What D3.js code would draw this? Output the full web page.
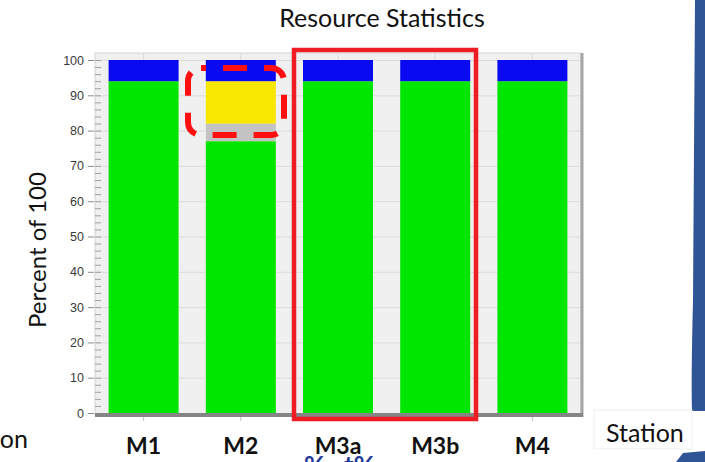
<!DOCTYPE html>
<html>
<head>
<meta charset="utf-8">
<script src="https://cdn.jsdelivr.net/npm/d3@7"></script>
<style>
  html, body { margin: 0; padding: 0; background: #ffffff; }
  svg { display: block; }
</style>
</head>
<body>
<svg id="chart" width="705" height="462"></svg>
<script>
// Station utilisation, stacked to 100 percent
const stations = ["M1", "M2", "M3a", "M3b", "M4"];
const working  = [94, 77, 94, 94, 94];   // green
const blocked  = [0, 5, 0, 0, 0];        // grey
const starved  = [0, 12, 0, 0, 0];       // yellow
const idle     = [6, 6, 6, 6, 6];        // blue
const yTicks   = [0, 10, 20, 30, 40, 50, 60, 70, 80, 90, 100];

const seriesKeys   = ["working", "blocked", "starved", "idle"];
const seriesColors = { working: "#00e600", blocked: "#c3c3c3", starved: "#f8e700", idle: "#0a0af0" };

const rows = stations.map((s, i) => ({
  station: s, working: working[i], blocked: blocked[i], starved: starved[i], idle: idle[i]
}));

const svg = d3.select("#chart");
const slideFont = "Lato, 'Open Sans', sans-serif";

const plot = { left: 95, right: 581, top: 53, bottom: 415 };

const x = d3.scaleBand().domain(stations).range([plot.left, plot.right])
  .paddingInner(0.28).paddingOuter(0.14);
const y = d3.scaleLinear().domain([0, 100]).range([413, 60]);

// slide decoration on the right edge
svg.append("path")
  .attr("d", "M695,0 L705,0 L705,411 L692,411 Q691,380 693,300 Z")
  .attr("fill", "#2f5597");
svg.append("path")
  .attr("d", "M676,462 L683,453 L705,451 L705,462 Z")
  .attr("fill", "#2f5597");

// plot background
svg.append("rect")
  .attr("x", plot.left).attr("y", plot.top)
  .attr("width", plot.right - plot.left).attr("height", plot.bottom - plot.top)
  .attr("fill", "#f0f0f0").attr("stroke", "#d4d4d4").attr("stroke-width", 1);

// horizontal grid
svg.append("g").selectAll("line").data(yTicks).join("line")
  .attr("x1", plot.left).attr("x2", plot.right)
  .attr("y1", d => y(d) + 0.5).attr("y2", d => y(d) + 0.5)
  .attr("stroke", "#dcdcdc").attr("stroke-width", 1);

// vertical grid at station centres
svg.append("g").selectAll("line").data(stations).join("line")
  .attr("x1", d => x(d) + x.bandwidth() / 2).attr("x2", d => x(d) + x.bandwidth() / 2)
  .attr("y1", plot.top).attr("y2", plot.bottom)
  .attr("stroke", "#dcdcdc").attr("stroke-width", 1);

// stacked bars
const stack = d3.stack().keys(seriesKeys)(rows);
svg.append("g").selectAll("g").data(stack).join("g")
  .attr("fill", d => seriesColors[d.key])
  .selectAll("rect").data(d => d).join("rect")
  .attr("x", d => x(d.data.station))
  .attr("width", x.bandwidth())
  .attr("y", d => y(d[1]))
  .attr("height", d => Math.max(0, y(d[0]) - y(d[1])));

// minor ticks inside the left edge of the frame
svg.append("g").selectAll("line").data(d3.range(0, 101, 2)).join("line")
  .attr("x1", plot.left).attr("x2", plot.left + 6)
  .attr("y1", d => y(d) + 0.5).attr("y2", d => y(d) + 0.5)
  .attr("stroke", "#a0a0a0").attr("stroke-width", 1);

// right frame shadow
svg.append("line")
  .attr("x1", plot.right + 1).attr("x2", plot.right + 1)
  .attr("y1", plot.top).attr("y2", plot.bottom + 2)
  .attr("stroke", "#a6a6a6").attr("stroke-width", 3);

// base line
svg.append("line")
  .attr("x1", plot.left).attr("x2", plot.right + 2)
  .attr("y1", 415).attr("y2", 415)
  .attr("stroke", "#858585").attr("stroke-width", 4);

// small ticks below the base at station centres
svg.append("g").selectAll("line").data(stations).join("line")
  .attr("x1", d => x(d) + x.bandwidth() / 2).attr("x2", d => x(d) + x.bandwidth() / 2)
  .attr("y1", 417).attr("y2", 421)
  .attr("stroke", "#c0c0c0").attr("stroke-width", 1);

// y axis
const yAxis = svg.append("g")
  .attr("transform", `translate(${plot.left - 1},0)`)
  .call(d3.axisLeft(y).tickValues(yTicks).tickSize(6).tickPadding(4));
yAxis.select(".domain").remove();
yAxis.selectAll(".tick line").attr("stroke", "#8a8a8a");
yAxis.selectAll(".tick text")
  .attr("fill", "#3a3a3a")
  .style("font-family", "Arial, 'Liberation Sans', sans-serif")
  .style("font-size", "12.5px");

// station labels
const xAxis = svg.append("g")
  .attr("transform", "translate(0,432)")
  .call(d3.axisBottom(x).tickSize(0).tickPadding(0));
xAxis.select(".domain").remove();
xAxis.selectAll(".tick text")
  .attr("dy", "0.95em")
  .attr("fill", "#111")
  .style("font-family", slideFont)
  .style("font-weight", "bold")
  .style("font-size", "23px");

// title
svg.append("text")
  .attr("x", 382).attr("y", 27)
  .attr("text-anchor", "middle")
  .attr("fill", "#111")
  .style("font-family", slideFont)
  .style("font-size", "25px")
  .text("Resource Statistics");

// y axis title
svg.append("text")
  .attr("transform", "translate(46,250) rotate(-90)")
  .attr("text-anchor", "middle")
  .attr("fill", "#111")
  .style("font-family", slideFont)
  .style("font-size", "24px")
  .text("Percent of 100");

// highlight: solid frame round M3a and M3b
svg.append("rect")
  .attr("x", 294).attr("y", 50).attr("width", 182).attr("height", 369)
  .attr("fill", "none").attr("stroke", "#ee1c25").attr("stroke-width", 4.5);

// highlight: dashed rounded frame on M2's upper stack
svg.append("rect")
  .attr("x", 188).attr("y", 68).attr("width", 96).attr("height", 67)
  .attr("rx", 13).attr("ry", 13)
  .attr("fill", "none").attr("stroke", "#ff1010").attr("stroke-width", 6)
  .attr("stroke-dasharray", "24 17").attr("stroke-dashoffset", 19);

// "Station" caption boxes
svg.append("rect")
  .attr("x", 594).attr("y", 410).attr("width", 98).attr("height", 39)
  .attr("fill", "#ffffff").attr("stroke", "#eeeeee").attr("stroke-width", 1);
svg.append("text")
  .attr("x", 606).attr("y", 442)
  .attr("fill", "#111")
  .style("font-family", slideFont)
  .style("font-size", "25px")
  .text("Station");
svg.append("text")
  .attr("x", 28).attr("y", 448)
  .attr("text-anchor", "end")
  .attr("fill", "#111")
  .style("font-family", slideFont)
  .style("font-size", "25px")
  .text("Station");

// text running off the bottom edge
svg.append("text")
  .attr("x", 304).attr("y", 475)
  .attr("fill", "#1f3c96")
  .style("font-family", slideFont)
  .style("font-weight", "bold")
  .style("font-size", "26px")
  .text("% . t%");
</script>
</body>
</html>
